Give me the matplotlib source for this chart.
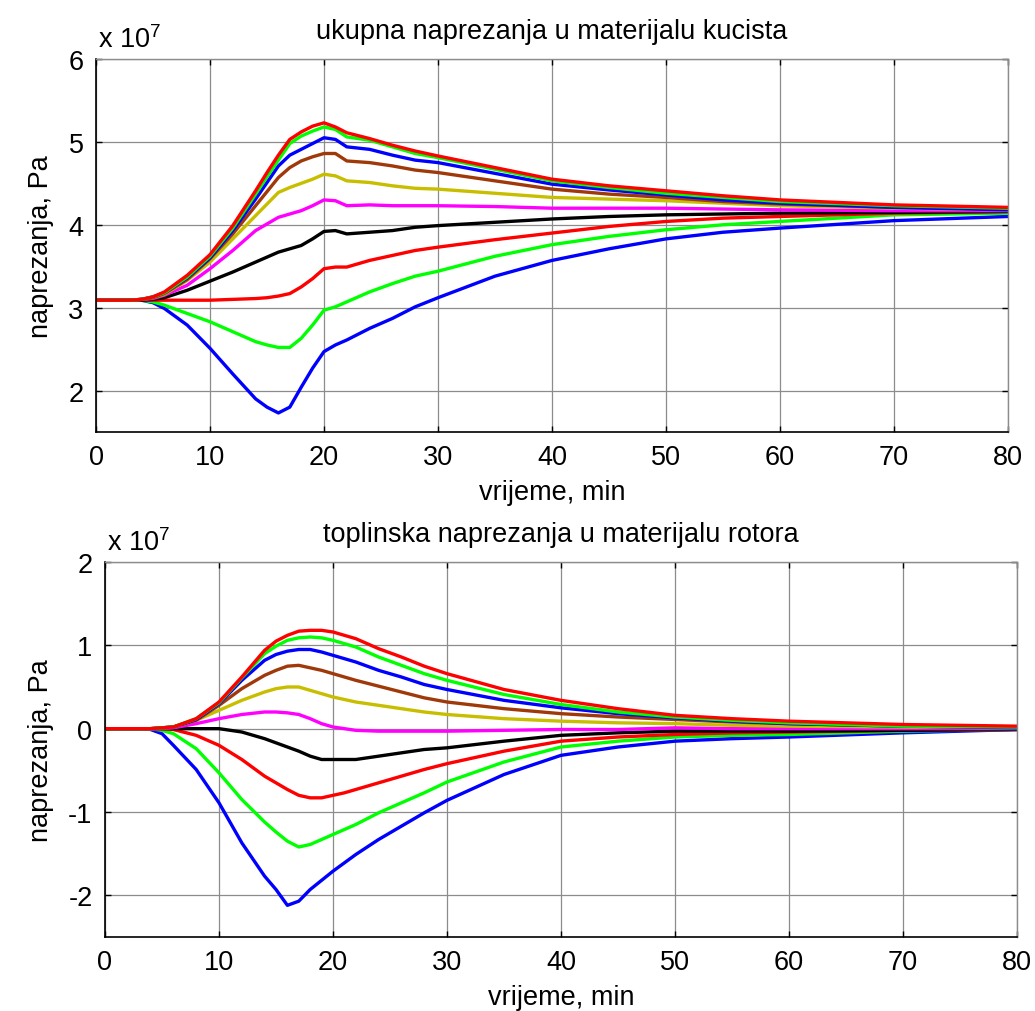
import numpy as np
import matplotlib
matplotlib.use("Agg")
import matplotlib.pyplot as plt

# vrijeme, min
t = [0, 3, 4, 5, 6, 8, 10, 12, 14, 15, 16, 17, 18, 19, 20, 21, 22, 24, 26, 28,
     30, 35, 40, 45, 50, 55, 60, 70, 80]

# ukupna naprezanja u materijalu kucista (x 1e7 Pa)
kuc_red_hi = [3.09, 3.09, 3.10, 3.13, 3.19, 3.39, 3.64, 3.99, 4.41, 4.63, 4.84, 5.03, 5.12, 5.19, 5.23,
              5.18, 5.11, 5.04, 4.96, 4.89, 4.83, 4.69, 4.55, 4.47, 4.41, 4.35, 4.30, 4.24, 4.21]
kuc_green_hi = [3.09, 3.09, 3.10, 3.13, 3.18, 3.37, 3.62, 3.96, 4.37, 4.58, 4.78, 4.98, 5.07, 5.13, 5.18,
                5.15, 5.06, 5.02, 4.94, 4.86, 4.81, 4.67, 4.53, 4.45, 4.38, 4.33, 4.28, 4.23, 4.20]
kuc_blue_hi = [3.09, 3.09, 3.10, 3.13, 3.18, 3.36, 3.60, 3.93, 4.31, 4.51, 4.71, 4.84, 4.91, 4.98, 5.05,
               5.03, 4.94, 4.91, 4.84, 4.78, 4.75, 4.62, 4.49, 4.42, 4.36, 4.30, 4.26, 4.21, 4.18]
kuc_brown = [3.09, 3.09, 3.10, 3.12, 3.17, 3.34, 3.59, 3.89, 4.23, 4.40, 4.57, 4.69, 4.77, 4.82, 4.86,
             4.86, 4.77, 4.75, 4.71, 4.66, 4.63, 4.53, 4.43, 4.37, 4.33, 4.28, 4.25, 4.21, 4.19]
kuc_olive = [3.09, 3.09, 3.10, 3.12, 3.16, 3.33, 3.55, 3.83, 4.11, 4.25, 4.39, 4.45, 4.50, 4.55, 4.61,
             4.59, 4.53, 4.51, 4.47, 4.44, 4.43, 4.38, 4.33, 4.31, 4.29, 4.26, 4.23, 4.20, 4.18]
kuc_magenta = [3.09, 3.09, 3.10, 3.11, 3.15, 3.27, 3.47, 3.69, 3.93, 4.01, 4.09, 4.13, 4.17, 4.23, 4.30,
               4.29, 4.23, 4.24, 4.23, 4.23, 4.23, 4.22, 4.20, 4.20, 4.20, 4.19, 4.18, 4.17, 4.17]
kuc_black = [3.09, 3.09, 3.09, 3.10, 3.12, 3.21, 3.32, 3.43, 3.55, 3.61, 3.67, 3.71, 3.75, 3.83, 3.92,
             3.93, 3.89, 3.91, 3.93, 3.97, 3.99, 4.03, 4.07, 4.10, 4.12, 4.13, 4.14, 4.15, 4.16]
kuc_red_lo = [3.09, 3.09, 3.09, 3.09, 3.09, 3.09, 3.09, 3.10, 3.11, 3.12, 3.14, 3.17, 3.25, 3.35, 3.47,
              3.49, 3.49, 3.57, 3.63, 3.69, 3.73, 3.82, 3.90, 3.98, 4.04, 4.08, 4.10, 4.14, 4.16]
kuc_green_lo = [3.09, 3.09, 3.09, 3.07, 3.03, 2.93, 2.83, 2.71, 2.59, 2.55, 2.52, 2.52, 2.63, 2.79, 2.97,
                3.01, 3.07, 3.19, 3.29, 3.38, 3.44, 3.62, 3.76, 3.86, 3.94, 4.00, 4.04, 4.12, 4.14]
kuc_blue_lo = [3.09, 3.09, 3.09, 3.06, 2.99, 2.79, 2.51, 2.20, 1.90, 1.80, 1.73, 1.80, 2.04, 2.27, 2.47,
               2.55, 2.61, 2.75, 2.87, 3.01, 3.12, 3.38, 3.57, 3.71, 3.83, 3.91, 3.96, 4.05, 4.10]

# toplinska naprezanja u materijalu rotora (x 1e7 Pa)
rot_red_hi = [0, 0, 0, 0.01, 0.02, 0.12, 0.32, 0.62, 0.94, 1.05, 1.12, 1.17, 1.18, 1.18, 1.16,
              1.12, 1.08, 0.96, 0.86, 0.75, 0.66, 0.47, 0.34, 0.24, 0.16, 0.12, 0.09, 0.05, 0.03]
rot_green_hi = [0, 0, 0, 0.01, 0.02, 0.12, 0.31, 0.61, 0.90, 0.99, 1.06, 1.09, 1.10, 1.09, 1.06,
                1.02, 0.98, 0.86, 0.76, 0.66, 0.58, 0.41, 0.29, 0.20, 0.14, 0.10, 0.07, 0.03, 0.02]
rot_blue_hi = [0, 0, 0, 0.01, 0.02, 0.11, 0.30, 0.58, 0.82, 0.89, 0.93, 0.95, 0.95, 0.92, 0.88,
               0.84, 0.80, 0.70, 0.62, 0.53, 0.47, 0.34, 0.25, 0.18, 0.13, 0.09, 0.06, 0.03, 0.01]
rot_brown = [0, 0, 0, 0.01, 0.02, 0.10, 0.28, 0.48, 0.64, 0.70, 0.75, 0.76, 0.73, 0.70, 0.66,
             0.62, 0.58, 0.51, 0.44, 0.37, 0.32, 0.24, 0.18, 0.14, 0.11, 0.08, 0.06, 0.03, 0.02]
rot_olive = [0, 0, 0, 0.01, 0.02, 0.10, 0.22, 0.34, 0.44, 0.48, 0.50, 0.50, 0.46, 0.42, 0.38,
             0.35, 0.32, 0.28, 0.24, 0.20, 0.17, 0.12, 0.09, 0.07, 0.06, 0.04, 0.03, 0.02, 0.01]
rot_magenta = [0, 0, 0, 0, 0.01, 0.06, 0.12, 0.17, 0.20, 0.20, 0.19, 0.17, 0.12, 0.06, 0.02,
               0.00, -0.02, -0.03, -0.03, -0.03, -0.03, -0.02, -0.01, -0.01, 0.01, 0.00, 0.00, 0.00, 0.00]
rot_black = [0, 0, 0, 0, 0, 0, 0, -0.04, -0.12, -0.17, -0.22, -0.27, -0.33, -0.37, -0.37,
             -0.37, -0.37, -0.33, -0.29, -0.25, -0.23, -0.15, -0.08, -0.05, -0.03, -0.03, -0.03, -0.02, -0.01]
rot_red_lo = [0, 0, 0, 0, -0.01, -0.08, -0.20, -0.37, -0.57, -0.65, -0.73, -0.80, -0.83, -0.83, -0.80,
              -0.77, -0.73, -0.65, -0.57, -0.49, -0.42, -0.27, -0.15, -0.10, -0.07, -0.05, -0.04, -0.02, -0.01]
rot_green_lo = [0, 0, 0, -0.02, -0.06, -0.24, -0.53, -0.85, -1.12, -1.24, -1.35, -1.42, -1.39, -1.33, -1.27,
                -1.21, -1.15, -1.01, -0.89, -0.77, -0.64, -0.40, -0.22, -0.15, -0.10, -0.08, -0.07, -0.03, -0.01]
rot_blue_lo = [0, 0, -0.01, -0.06, -0.20, -0.49, -0.89, -1.37, -1.77, -1.93, -2.12, -2.07, -1.93, -1.82, -1.71,
               -1.61, -1.51, -1.33, -1.17, -1.01, -0.86, -0.55, -0.32, -0.22, -0.15, -0.12, -0.10, -0.05, -0.01]

# plotting order (last drawn on top), same as the original figure
colors = ['#0000ff', '#00ff00', '#ff0000', '#000000', '#ff00ff',
          '#c8be00', '#a0390a', '#0000ff', '#00ff00', '#ff0000']
kuc_series = [kuc_blue_lo, kuc_green_lo, kuc_red_lo, kuc_black, kuc_magenta,
              kuc_olive, kuc_brown, kuc_blue_hi, kuc_green_hi, kuc_red_hi]
rot_series = [rot_blue_lo, rot_green_lo, rot_red_lo, rot_black, rot_magenta,
              rot_olive, rot_brown, rot_blue_hi, rot_green_hi, rot_red_hi]

plt.rcParams['font.family'] = ['Liberation Sans', 'DejaVu Sans']
plt.rcParams['mathtext.fontset'] = 'custom'
plt.rcParams['mathtext.rm'] = 'Liberation Sans'
plt.rcParams['axes.unicode_minus'] = False
fs = 19.5

W, H = 1035, 1012
fig = plt.figure(figsize=(W / 100, H / 100), dpi=100)
ax1 = fig.add_axes([96 / W, 1 - 433 / H, 912 / W, 373 / H])
ax2 = fig.add_axes([105 / W, 1 - 938 / H, 912 / W, 375 / H])


def style(ax, series, ylim, yticks, title):
    for s, c in zip(series, colors):
        ax.plot(t, s, color=c, linewidth=2.4)
    ax.set_xlim(0, 80)
    ax.set_ylim(*ylim)
    ax.set_xticks(range(0, 81, 10))
    ax.set_yticks(yticks)
    ax.grid(True, color='#8c8c8c', linewidth=0.9)
    ax.set_axisbelow(True)
    ax.tick_params(direction='in', length=4, width=1, top=True, right=True,
                   labelsize=fs, pad=9)
    for side in ['left', 'bottom']:
        ax.spines[side].set_color('black')
        ax.spines[side].set_linewidth(1.2)
    for side in ['top', 'right']:
        ax.spines[side].set_color('#8c8c8c')
        ax.spines[side].set_linewidth(1.0)
    ax.set_xlabel('vrijeme, min', fontsize=fs, labelpad=6)
    ax.set_title(title, fontsize=fs, pad=15)
    ax.text(0.002, 1.015, r'x 10$^{7}$', transform=ax.transAxes,
            fontsize=fs, ha='left', va='bottom')


style(ax1, kuc_series, (1.5, 6), [2, 3, 4, 5, 6],
      'ukupna naprezanja u materijalu kucista')
style(ax2, rot_series, (-2.5, 2), [-2, -1, 0, 1, 2],
      'toplinska naprezanja u materijalu rotora')
ax1.set_ylabel('naprezanja, Pa', fontsize=fs)
ax2.set_ylabel('naprezanja, Pa', fontsize=fs)
ax1.yaxis.set_label_coords(-0.046, 0.5)
ax2.yaxis.set_label_coords(-0.056, 0.5)

fig.savefig('out.png', dpi=100)
